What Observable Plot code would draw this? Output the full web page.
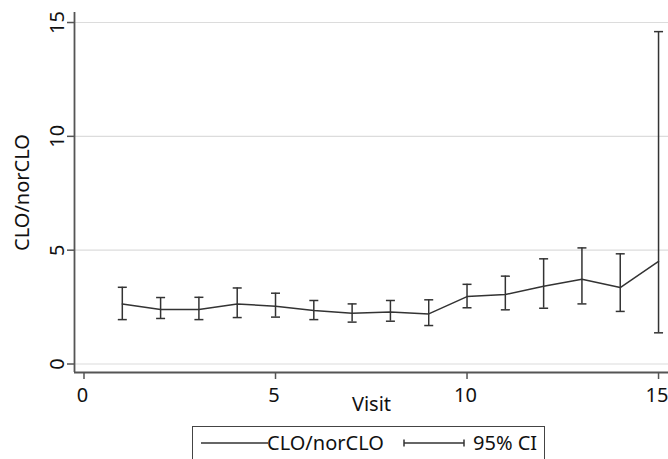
<!DOCTYPE html>
<html>
<head>
<meta charset="utf-8">
<script src="https://cdn.jsdelivr.net/npm/d3@7"></script>
<script src="https://cdn.jsdelivr.net/npm/@observablehq/plot@0.6"></script>
<style>
  html, body { margin: 0; padding: 0; background: #fff; }
  #wrap { position: relative; width: 668px; height: 459px; overflow: hidden; font-family: "Noto Sans", sans-serif; color: #111; }
  #legend { position: absolute; left: 192px; top: 426px; width: 353px; height: 44px; border: 1.5px solid #444; box-sizing: border-box; font-size: 20px; }
  #legend .t { position: absolute; top: 0; line-height: 32px; white-space: nowrap; }
  #legend svg { position: absolute; top: 11px; }
</style>
</head>
<body>
<div id="wrap">
  <div id="chart"></div>
  <div id="legend">
    <svg style="left:8px" width="67" height="10"><line x1="0" x2="67" y1="5" y2="5" stroke="#333" stroke-width="1.5"/></svg>
    <span class="t" style="left:74px">CLO/norCLO</span>
    <svg style="left:210px" width="62" height="10"><line x1="1" x2="61" y1="5" y2="5" stroke="#333" stroke-width="1.5"/><line x1="1" x2="1" y1="1.5" y2="8.5" stroke="#333" stroke-width="1.5"/><line x1="61" x2="61" y1="1.5" y2="8.5" stroke="#333" stroke-width="1.5"/></svg>
    <span class="t" style="left:280px">95% CI</span>
  </div>
</div>
<script>
const visits = [1, 2, 3, 4, 5, 6, 7, 8, 9, 10, 11, 12, 13, 14, 15];
const ratio  = [2.64, 2.39, 2.39, 2.64, 2.54, 2.35, 2.23, 2.28, 2.20, 2.96, 3.05, 3.42, 3.72, 3.36, 4.51];
const lower  = [1.95, 2.00, 1.95, 2.04, 2.06, 1.95, 1.84, 1.88, 1.69, 2.47, 2.38, 2.45, 2.64, 2.31, 1.37];
const upper  = [3.37, 2.92, 2.93, 3.34, 3.11, 2.79, 2.64, 2.79, 2.82, 3.50, 3.86, 4.62, 5.10, 4.84, 14.6];
const xTicks = [0, 5, 10, 15];
const yTicks = [0, 5, 10, 15];
const xTitle = "Visit";
const yTitle = "CLO/norCLO";

const data = visits.map((v, i) => ({visit: v, ratio: ratio[i], lo: lower[i], hi: upper[i]}));

const xDomain = [-0.248, 15.26];
const yDomain = [-0.373, 15.44];

const capSymbol = {
  draw(context, size) {
    context.moveTo(-4.5, 0);
    context.lineTo(4.5, 0);
  }
};

const ink = "#333";
const axisInk = "#555";

const chart = Plot.plot({
  width: 668,
  height: 424,
  marginTop: 12,
  marginLeft: 74,
  marginRight: 0,
  marginBottom: 52,
  style: {fontFamily: "'Noto Sans', sans-serif", color: "#111", background: "#fff"},
  x: {domain: xDomain},
  y: {domain: yDomain},
  marks: [
    Plot.ruleY(yTicks, {stroke: "#dcdcdc", strokeWidth: 1.2}),
    Plot.ruleX([xDomain[0]], {stroke: axisInk, strokeWidth: 1.8}),
    Plot.ruleY([yDomain[0]], {stroke: axisInk, strokeWidth: 1.8}),
    Plot.axisX({ticks: xTicks, tickSize: 7, tickFormat: () => "", label: null, stroke: axisInk, strokeWidth: 1.5}),
    Plot.text(xTicks, {x: d => d, frameAnchor: "bottom", text: d => String(d), lineAnchor: "top", dy: 15, dx: -1.5, fontSize: 20, fill: "#111"}),
    Plot.axisY({ticks: yTicks, tickSize: 7, tickFormat: () => "", label: null, stroke: axisInk, strokeWidth: 1.5}),
    Plot.text(yTicks, {frameAnchor: "left", y: d => d, text: d => String(d), rotate: -90, dx: -17, textAnchor: "middle", lineAnchor: "middle", fontSize: 20, fill: "#111"}),
    Plot.text([xTitle], {frameAnchor: "bottom", dy: 38, fontSize: 20, fill: "#111"}),
    Plot.text([yTitle], {frameAnchor: "left", dx: -52, rotate: -90, textAnchor: "middle", lineAnchor: "middle", fontSize: 20, fill: "#111"}),
    Plot.ruleX(data, {x: "visit", y1: "lo", y2: "hi", stroke: ink, strokeWidth: 1.5}),
    Plot.dot(data, {x: "visit", y: "hi", symbol: capSymbol, stroke: ink, strokeWidth: 1.5, fill: "none"}),
    Plot.dot(data, {x: "visit", y: "lo", symbol: capSymbol, stroke: ink, strokeWidth: 1.5, fill: "none"}),
    Plot.line(data, {x: "visit", y: "ratio", stroke: ink, strokeWidth: 1.5})
  ]
});
document.getElementById("chart").appendChild(chart);
</script>
</body>
</html>
